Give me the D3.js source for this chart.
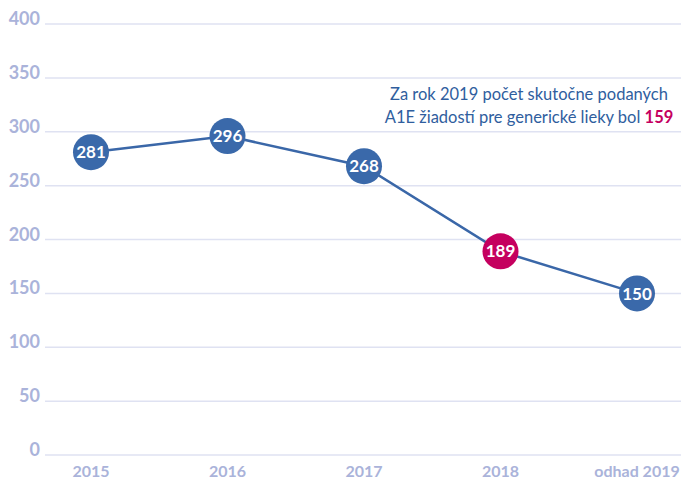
<!DOCTYPE html>
<html lang="sk">
<head>
<meta charset="UTF-8">
<title>A1E žiadosti</title>
<script src="https://d3js.org/d3.v7.min.js"></script>
<style>
    body { margin: 0; background: #fff; }
    svg { font-family: "Lato", "Open Sans", sans-serif; }
    .grid line { stroke: #dfe2f2; stroke-width: 1.5; }
    .axis-y text, .axis-x text { fill: #aab3da; font-weight: 700; }
</style>
</head>
<body>
<svg width="681" height="485"></svg>
<script>
    // data
    const years = ["2015", "2016", "2017", "2018", "odhad 2019"];
    const counts = [281, 296, 268, 189, 150];
    const yTicks = [0, 50, 100, 150, 200, 250, 300, 350, 400];
    const highlightYear = "2018";
    const noteLines = ["Za rok 2019 počet skutočne podaných", "A1E žiadostí pre generické lieky bol "];
    const noteValue = "159";

    const svg = d3.select("svg");
    const gridLeft = 45, gridRight = 681;

    const x = d3.scalePoint().domain(years).range([91, 637]);
    const y = d3.scaleLinear().domain([0, 400]).range([455, 24]);

    // gridlines
    svg.append("g").attr("class", "grid")
        .selectAll("line").data(yTicks).enter().append("line")
        .attr("x1", gridLeft).attr("x2", gridRight)
        .attr("y1", d => y(d)).attr("y2", d => y(d));

    // y labels
    svg.append("g").attr("class", "axis-y")
        .selectAll("text").data(yTicks).enter().append("text")
        .attr("x", 40).attr("y", d => y(d) + 1)
        .attr("text-anchor", "end")
        .style("font-size", "18px")
        .text(d => d);

    // x labels
    svg.append("g").attr("class", "axis-x")
        .selectAll("text").data(years).enter().append("text")
        .attr("x", d => x(d)).attr("y", 477)
        .attr("text-anchor", "middle")
        .style("font-size", "16px")
        .text(d => d);

    const pts = years.map((d, i) => ({ year: d, v: counts[i] }));

    svg.append("path").datum(pts)
        .attr("fill", "none")
        .attr("stroke", "#3a67a8")
        .attr("stroke-width", 2.5)
        .attr("d", d3.line().x(d => x(d.year)).y(d => y(d.v)));

    const dots = svg.selectAll(".dot").data(pts).enter().append("g")
        .attr("transform", d => `translate(${x(d.year)},${y(d.v)})`);
    dots.append("circle").attr("r", 18)
        .attr("fill", d => d.year === highlightYear ? "#c5005f" : "#3a69aa");
    dots.append("text")
        .attr("text-anchor", "middle").attr("dy", "0.36em")
        .attr("fill", "#fff").style("font-size", "17px").style("font-weight", 700)
        .text(d => d.v);

    // note
    const note = svg.append("text").attr("text-anchor", "middle")
        .attr("fill", "#2f5e9e").style("font-size", "16.5px");
    note.append("tspan").attr("x", 529).attr("y", 100).text(noteLines[0]);
    note.append("tspan").attr("x", 529).attr("y", 123).text(noteLines[1]);
    note.append("tspan").attr("fill", "#c5005f").style("font-weight", 700).text(noteValue);
</script>
</body>
</html>
